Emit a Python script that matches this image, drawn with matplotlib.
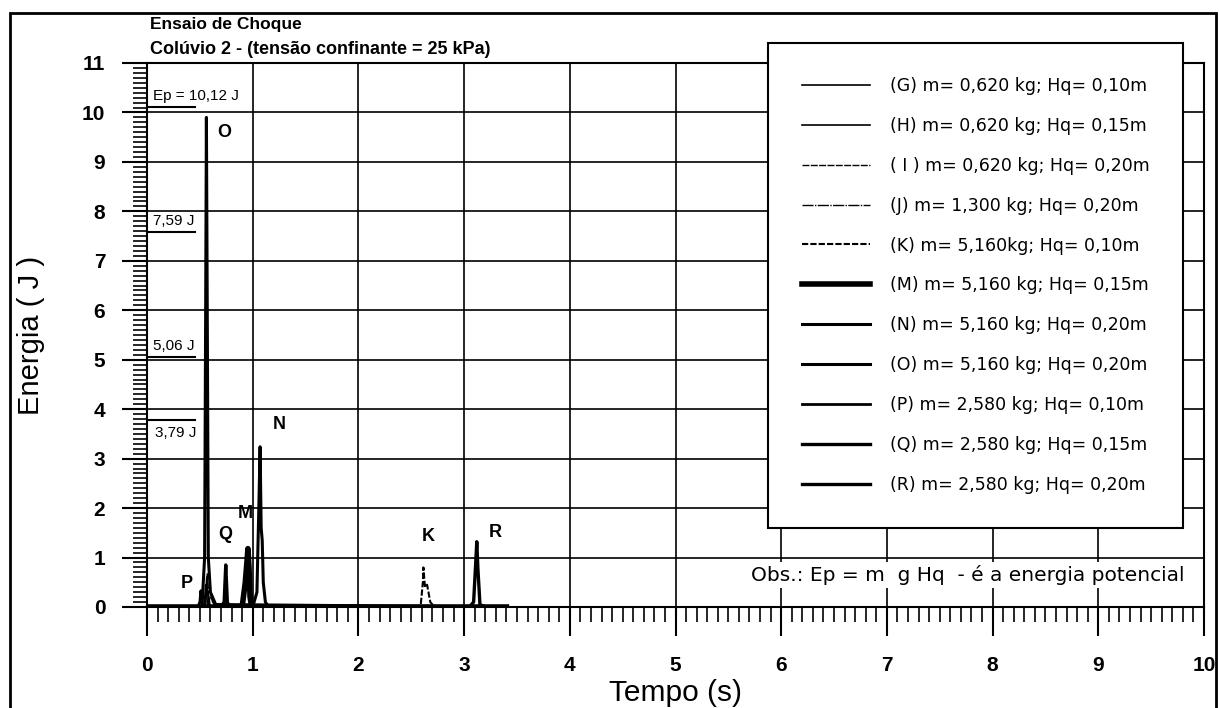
import matplotlib
matplotlib.use("Agg")
import matplotlib.pyplot as plt
from matplotlib.patches import Rectangle
from matplotlib.ticker import MultipleLocator

plt.rcParams['font.family'] = ['Liberation Sans', 'DejaVu Sans']

# ensaios de choque - energia (J) x tempo (s)
t_G = [0.0, 0.54, 0.555, 0.565, 0.58, 3.4]
e_G = [0.0, 0.0, 0.45, 0.20, 0.0, 0.0]
t_H = [0.0, 0.55, 0.565, 0.575, 0.59, 3.4]
e_H = [0.0, 0.0, 0.60, 0.25, 0.0, 0.0]
t_I = [0.0, 0.555, 0.57, 0.585, 0.60, 3.4]
e_I = [0.0, 0.0, 0.67, 0.20, 0.0, 0.0]
t_J = [0.0, 0.58, 0.60, 0.62, 0.65, 3.4]
e_J = [0.0, 0.0, 0.25, 0.10, 0.0, 0.0]
t_K = [0.0, 2.55, 2.59, 2.61, 2.615, 2.63, 2.65, 2.68, 2.72, 3.4]
e_K = [0.0, 0.0, 0.05, 0.50, 0.80, 0.40, 0.45, 0.10, 0.0, 0.0]
t_M = [0.0, 0.90, 0.93, 0.945, 0.955, 0.965, 0.975, 0.99, 3.4]
e_M = [0.0, 0.0, 0.50, 0.90, 1.18, 0.80, 0.20, 0.0, 0.0]
t_N = [0.0, 1.00, 1.04, 1.06, 1.07, 1.08, 1.09, 1.10, 1.12, 1.15, 3.4]
e_N = [0.0, 0.0, 0.30, 2.20, 3.24, 1.60, 1.35, 0.50, 0.10, 0.0, 0.0]
t_O = [0.0, 0.52, 0.545, 0.555, 0.562, 0.57, 0.58, 0.60, 0.65, 3.4]
e_O = [0.0, 0.0, 1.0, 6.0, 9.9, 6.0, 1.0, 0.30, 0.05, 0.0]
t_P = [0.0, 0.48, 0.50, 0.51, 0.52, 0.53, 3.4]
e_P = [0.0, 0.0, 0.10, 0.33, 0.10, 0.0, 0.0]
t_Q = [0.0, 0.70, 0.73, 0.745, 0.76, 0.78, 3.4]
e_Q = [0.0, 0.0, 0.10, 0.85, 0.10, 0.0, 0.0]
t_R = [0.0, 3.05, 3.09, 3.11, 3.12, 3.13, 3.15, 3.20, 3.4]
e_R = [0.0, 0.0, 0.10, 0.90, 1.32, 0.80, 0.05, 0.0, 0.0]

legendas = [
    "(G) m= 0,620 kg; Hq= 0,10m",
    "(H) m= 0,620 kg; Hq= 0,15m",
    "( I ) m= 0,620 kg; Hq= 0,20m",
    "(J) m= 1,300 kg; Hq= 0,20m",
    "(K) m= 5,160kg; Hq= 0,10m",
    "(M) m= 5,160 kg; Hq= 0,15m",
    "(N) m= 5,160 kg; Hq= 0,20m",
    "(O) m= 5,160 kg; Hq= 0,20m",
    "(P) m= 2,580 kg; Hq= 0,10m",
    "(Q) m= 2,580 kg; Hq= 0,15m",
    "(R) m= 2,580 kg; Hq= 0,20m",
]

# energias potenciais de referencia
ep_valores = [10.12, 7.59, 5.06, 3.79]
ep_textos = ["Ep = 10,12 J", "7,59 J", "5,06 J", "3,79 J"]

# letras dos picos
letras = ["O", "N", "M", "Q", "K", "R", "P"]
letras_x = [0.73, 1.25, 0.93, 0.74, 2.66, 3.30, 0.38]
letras_y = [9.6, 3.7, 1.89, 1.46, 1.42, 1.5, 0.47]

series = [(t_G, e_G), (t_H, e_H), (t_I, e_I), (t_J, e_J), (t_K, e_K),
          (t_M, e_M), (t_N, e_N), (t_O, e_O), (t_P, e_P), (t_Q, e_Q),
          (t_R, e_R)]
larguras = [1.2, 1.2, 1.0, 1.0, 1.5, 4.0, 2.2, 2.2, 2.0, 2.4, 2.4]
estilos = ['-', '-', (0, (5, 1)), (0, (8, 1, 1, 1)), (0, (3, 1)),
           '-', '-', '-', '-', '-', '-']

fig = plt.figure(figsize=(12.19, 7.08), dpi=100)
ax = fig.add_axes([147 / 1219, 1 - 607 / 708, 1057 / 1219, 544 / 708])

for (t, e), lab, lw, ls in zip(series, legendas, larguras, estilos):
    ax.plot(t, e, color='black', lw=lw, linestyle=ls, label=lab)

for v, txt in zip(ep_valores, ep_textos):
    ax.plot([0, 0.45], [v, v], color='black', lw=1.5)
    if v < 4:
        ax.text(0.08, v - 0.12, txt, fontsize=11, va='top', ha='left')
    else:
        ax.text(0.06, v + 0.08, txt, fontsize=11, va='bottom', ha='left')

for l, x, y in zip(letras, letras_x, letras_y):
    ax.text(x, y, l, fontsize=13, fontweight='bold', ha='center', va='center')

ax.set_xlim(0, 10)
ax.set_ylim(0, 11)
ax.xaxis.set_major_locator(MultipleLocator(1))
ax.xaxis.set_minor_locator(MultipleLocator(0.1))
ax.yaxis.set_major_locator(MultipleLocator(1))
ax.yaxis.set_minor_locator(MultipleLocator(0.1))
ax.grid(True, which='major', color='black', lw=1.2)
ax.tick_params(axis='x', which='major', direction='out', length=21, width=1.5,
               pad=14, labelsize=15)
ax.tick_params(axis='x', which='minor', direction='out', length=11, width=1.2)
ax.tick_params(axis='y', which='major', direction='out', length=18, width=1.5,
               pad=12, labelsize=15)
ax.tick_params(axis='y', which='minor', direction='out', length=10, width=1.2)
for lab in ax.get_xticklabels() + ax.get_yticklabels():
    lab.set_fontweight('bold')
for sp in ax.spines.values():
    sp.set_linewidth(1.5)

ax.set_xlabel("Tempo (s)", fontsize=21.5)
ax.xaxis.set_label_coords(0.5, -0.132)
ax.set_ylabel("Energia ( J )", fontsize=21)
ax.yaxis.set_label_coords(-0.0965, 0.5)

leg = ax.legend(loc='upper left', bbox_to_anchor=(0.5875, 0.0, 0.3925, 1.037),
                mode='expand', frameon=True, fancybox=False, edgecolor='black',
                prop={'family': 'DejaVu Sans', 'size': 12.5},
                handlelength=3.9, handletextpad=1.15,
                labelspacing=1.26, borderpad=1.97, borderaxespad=0)
leg.get_frame().set_linewidth(1.5)
leg.get_frame().set_alpha(1)

ax.text(9.82, 0.65, "Obs.: Ep = m  g Hq  - é a energia potencial",
        fontsize=14.5, family='DejaVu Sans', ha='right', va='center',
        bbox=dict(facecolor='white', edgecolor='none', pad=2))

fig.text(150 / 1219, 1 - 25 / 708, "Ensaio de Choque", fontsize=12.5,
         fontweight='bold', va='center', ha='left')
fig.text(150 / 1219, 1 - 50 / 708, "Colúvio 2 - (tensão confinante = 25 kPa)",
         fontsize=13, fontweight='bold', va='center', ha='left')

fig.patches.append(Rectangle((10 / 1219, -0.1), 1206 / 1219, 1.1 - 12.7 / 708,
                             transform=fig.transFigure, fill=False,
                             edgecolor='black', lw=2))

fig.savefig("out.png", dpi=100)
